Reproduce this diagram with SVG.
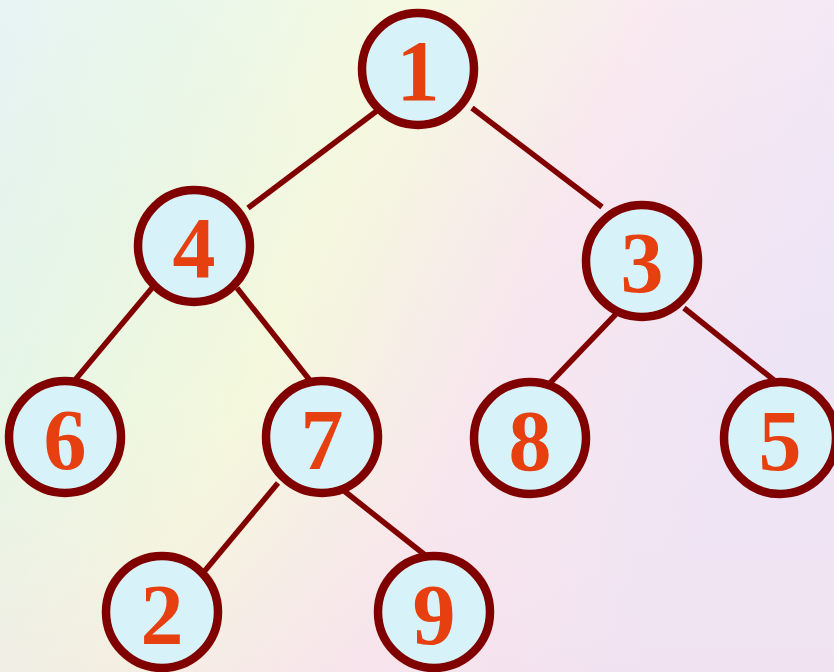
<svg xmlns="http://www.w3.org/2000/svg" width="834" height="672" viewBox="0 0 834 672">
<defs>
<linearGradient id="bg" x1="0" y1="0" x2="1" y2="0.35">
<stop offset="0" stop-color="#e3f1f2"/>
<stop offset="0.2" stop-color="#e6f6e6"/>
<stop offset="0.45" stop-color="#f4f8dc"/>
<stop offset="0.7" stop-color="#f8e6ee"/>
<stop offset="1" stop-color="#ede4f6"/>
</linearGradient>
<linearGradient id="bg2" x1="0" y1="0" x2="0" y2="1">
<stop offset="0" stop-color="#ffffff" stop-opacity="0.15"/>
<stop offset="0.6" stop-color="#f8e8e8" stop-opacity="0"/>
<stop offset="1" stop-color="#f6e0ea" stop-opacity="0.4"/>
</linearGradient>
<style>
.e{stroke:#800000;stroke-width:5.5;stroke-linecap:butt;fill:none}
.n circle{fill:#d8f2f9;stroke:#800000;stroke-width:8.5}
.n text{font-family:"Liberation Serif","Times New Roman",serif;font-weight:bold;font-size:86px;fill:#e63f10;text-anchor:middle}
</style>
</defs>
<rect width="834" height="672" fill="url(#bg)"/>
<rect width="834" height="672" fill="url(#bg2)"/>
<g id="edges">
<line class="e" x1="378" y1="110" x2="248" y2="208"/>
<line class="e" x1="472" y1="108" x2="602" y2="207"/>
<line class="e" x1="152" y1="288" x2="75" y2="380"/>
<line class="e" x1="237" y1="288" x2="312" y2="383"/>
<line class="e" x1="617" y1="313" x2="550" y2="383"/>
<line class="e" x1="684" y1="308" x2="775" y2="381"/>
<line class="e" x1="278" y1="483" x2="203" y2="573"/>
<line class="e" x1="343" y1="490" x2="425" y2="555"/>
</g>
<g id="n1" class="n"><circle cx="418" cy="69" r="56"/><text x="418" y="100">1</text></g>
<g id="n4" class="n"><circle cx="194" cy="246" r="56"/><text x="194" y="277">4</text></g>
<g id="n3" class="n"><circle cx="642" cy="261" r="56"/><text x="642" y="292">3</text></g>
<g id="n6" class="n"><circle cx="65" cy="437" r="56"/><text x="65" y="469">6</text></g>
<g id="n7" class="n"><circle cx="322" cy="437" r="56"/><text x="322" y="469">7</text></g>
<g id="n8" class="n"><circle cx="530" cy="438" r="56"/><text x="530" y="470">8</text></g>
<g id="n5" class="n"><circle cx="780" cy="438" r="56"/><text x="780" y="470">5</text></g>
<g id="n2" class="n"><circle cx="162" cy="612" r="56"/><text x="162" y="644">2</text></g>
<g id="n9" class="n"><circle cx="434" cy="612" r="56"/><text x="434" y="644">9</text></g>
</svg>
